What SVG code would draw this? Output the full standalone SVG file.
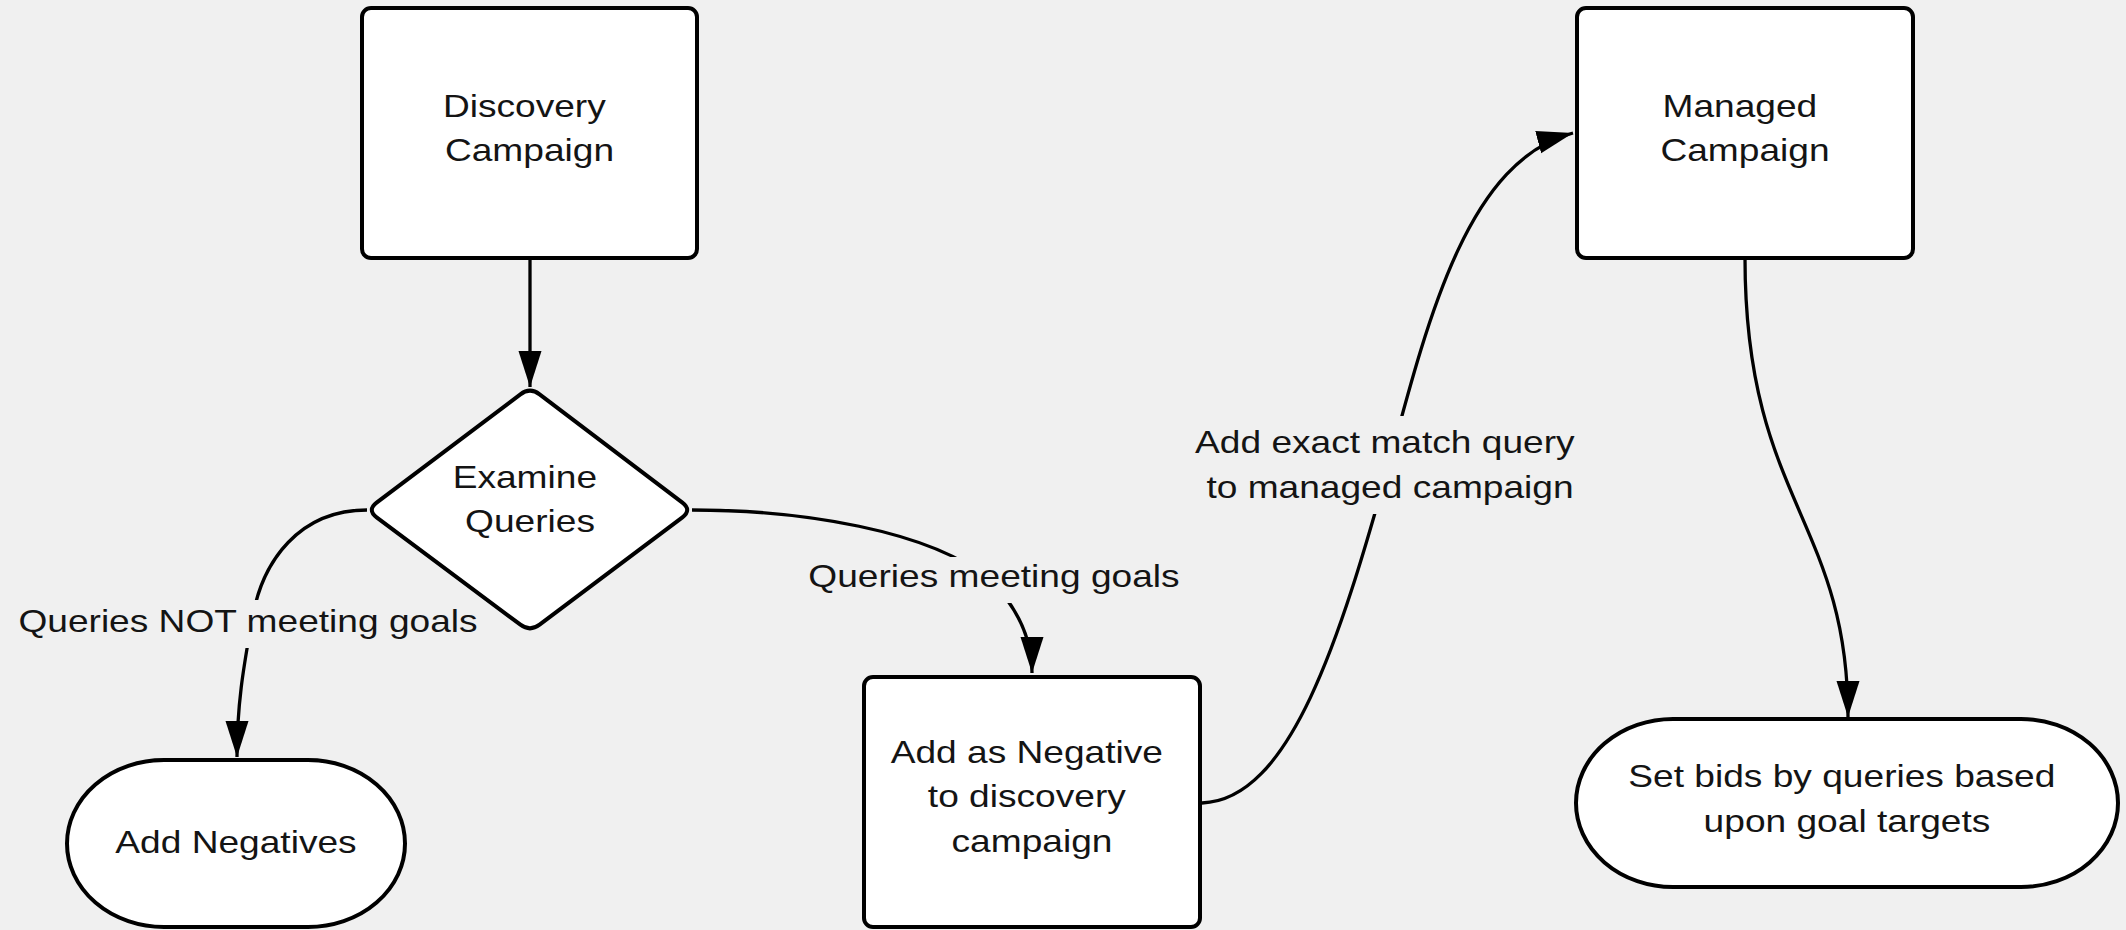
<svg xmlns="http://www.w3.org/2000/svg" width="2126" height="930" viewBox="0 0 2126 930">
  <style>
    .shape { fill: #ffffff; stroke: #000000; stroke-width: 4; }
    .conn { fill: none; stroke: #000000; stroke-width: 3.3; marker-end: url(#arrow); }
    .txt { font-family: "Liberation Sans", Arial, sans-serif; font-size: 32px; fill: #141414; text-anchor: middle; }
    .gap { fill: #f0f0f0; stroke: none; }
  </style>
  <defs>
    <marker id="arrow" markerUnits="userSpaceOnUse" markerWidth="37" markerHeight="25" refX="36" refY="12" orient="auto">
      <path d="M0,0.5 L36,12 L0,23.5 Z" fill="#000000"/>
    </marker>
  </defs>

  <rect width="2126" height="930" fill="#f0f0f0"/>

  <!-- connectors with their labels -->
  <g id="connectors">
    <path class="conn" d="M530,258 L530,387"/>

    <path class="conn" d="M367,510 C300,510 262,560 252,620 C245,660 237,700 237,757"/>
    <rect class="gap" x="10" y="600" width="478" height="48"/>
    <text class="txt" transform="translate(248 0) scale(1.16 1)" x="0" y="632">Queries NOT meeting goals</text>

    <path class="conn" d="M692,510 C800,510 930,530 990,580 C1020,610 1032,640 1032,673"/>
    <rect class="gap" x="800" y="557" width="388" height="46"/>
    <text class="txt" transform="translate(994 0) scale(1.16 1)" x="0" y="587">Queries meeting goals</text>

    <path class="conn" d="M1202,803 C1290,800 1340,640 1390,460 C1430,310 1470,160 1573,133"/>
    <rect class="gap" x="1190" y="416" width="398" height="98"/>
    <text class="txt" transform="translate(1390 0) scale(1.16 1)">
      <tspan x="0" y="453">Add exact match query</tspan>
      <tspan x="0" y="498">to managed campaign</tspan>
    </text>

    <path class="conn" d="M1745,258 C1745,500 1848,520 1848,717"/>
  </g>

  <g id="discovery-campaign">
    <rect class="shape" x="362" y="8" width="335" height="250" rx="9"/>
    <text class="txt" transform="translate(529.5 0) scale(1.16 1)">
      <tspan x="0" y="117">Discovery</tspan>
      <tspan x="0" y="161">Campaign</tspan>
    </text>
  </g>

  <g id="examine-queries">
    <path class="shape" d="M520.4,394.3 Q530,387 539.6,394.3 L682.4,502.7 Q692,510 682.4,517.3 L539.6,624.7 Q530,632 520.4,624.7 L376.6,517.3 Q367,510 376.6,502.7 Z"/>
    <text class="txt" transform="translate(530 0) scale(1.16 1)">
      <tspan x="0" y="488">Examine</tspan>
      <tspan x="0" y="532">Queries</tspan>
    </text>
  </g>

  <g id="add-negatives">
    <rect class="shape" x="67" y="760" width="338" height="167" rx="97" ry="83.5"/>
    <text class="txt" transform="translate(236 0) scale(1.16 1)" x="0" y="853">Add Negatives</text>
  </g>

  <g id="add-as-negative">
    <rect class="shape" x="864" y="677" width="336" height="250" rx="9"/>
    <text class="txt" transform="translate(1032 0) scale(1.16 1)">
      <tspan x="0" y="763">Add as Negative</tspan>
      <tspan x="0" y="807">to discovery</tspan>
      <tspan x="0" y="852">campaign</tspan>
    </text>
  </g>

  <g id="managed-campaign">
    <rect class="shape" x="1577" y="8" width="336" height="250" rx="9"/>
    <text class="txt" transform="translate(1745 0) scale(1.16 1)">
      <tspan x="0" y="117">Managed</tspan>
      <tspan x="0" y="161">Campaign</tspan>
    </text>
  </g>

  <g id="set-bids">
    <rect class="shape" x="1576" y="719" width="542" height="168" rx="97" ry="84"/>
    <text class="txt" transform="translate(1847 0) scale(1.16 1)">
      <tspan x="0" y="787">Set bids by queries based</tspan>
      <tspan x="0" y="832">upon goal targets</tspan>
    </text>
  </g>
</svg>
